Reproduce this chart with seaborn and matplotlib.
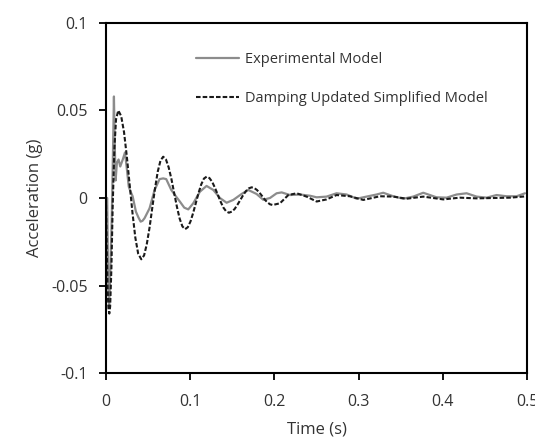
import matplotlib
matplotlib.use("Agg")
import matplotlib.pyplot as plt
import seaborn as sns
import pandas as pd

# Measured response (time in s, acceleration in g)
exp_t = [0.000, 0.0015, 0.0022, 0.003, 0.0038, 0.005, 0.007, 0.0085, 0.0095, 0.0105,
         0.0115, 0.013, 0.015, 0.017, 0.020, 0.0226, 0.025, 0.0271, 0.029, 0.0317,
         0.0356, 0.0385, 0.0412, 0.0435, 0.0459, 0.0518, 0.0578, 0.0637, 0.0680, 0.0716,
         0.0776, 0.0830, 0.0879, 0.0930, 0.0978, 0.1037, 0.1116, 0.1195, 0.1275, 0.1354,
         0.1433, 0.1512, 0.1611, 0.1690, 0.1789, 0.1868, 0.1948, 0.2027, 0.2087, 0.2186,
         0.2305, 0.2423, 0.2502, 0.2620, 0.2739, 0.2858, 0.2977, 0.3095, 0.3214, 0.3293,
         0.3412, 0.3530, 0.3649, 0.3768, 0.3847, 0.3926, 0.4045, 0.4164, 0.4283, 0.4402,
         0.4520, 0.4639, 0.4758, 0.4877, 0.4976]
exp_a = [0.000, 0.000, -0.030, -0.055, -0.062, -0.045, -0.010, 0.030, 0.058, 0.030,
         0.010, 0.020, 0.022, 0.018, 0.022, 0.026, 0.016, 0.0065, 0.004, 0.001,
         -0.0078, -0.011, -0.0135, -0.013, -0.0115, -0.0059, 0.0046, 0.0108, 0.0112, 0.0108,
         0.0046, 0.0010, -0.0021, -0.0055, -0.0065, -0.0030, 0.0036, 0.0069, 0.0046, 0.0000,
         -0.0027, -0.0011, 0.0023, 0.0046, 0.0023, -0.0010, 0.0000, 0.0027, 0.0032, 0.0017,
         0.0020, 0.0013, 0.0004, 0.0008, 0.0027, 0.0020, -0.0004, 0.0008, 0.0020, 0.0030,
         0.0010, -0.0004, 0.0008, 0.0030, 0.0017, 0.0004, 0.0002, 0.0020, 0.0027, 0.0008,
         0.0002, 0.0017, 0.0010, 0.0010, 0.0027]

# Damping-updated simplified model response
mod_t = [0.000, 0.001, 0.002, 0.003, 0.004, 0.005, 0.0065, 0.008, 0.010, 0.012,
         0.0147, 0.0181, 0.0215, 0.0248, 0.0282, 0.0316, 0.0349, 0.0383, 0.0420,
         0.0453, 0.0485, 0.0518, 0.0550, 0.0583, 0.0615, 0.0648, 0.0680,
         0.0713, 0.0745, 0.0778, 0.0810, 0.0843, 0.0875, 0.0908, 0.0940,
         0.0972, 0.1004, 0.1036, 0.1068, 0.1100, 0.1132, 0.1164, 0.1196,
         0.1229, 0.1262, 0.1295, 0.1328, 0.1361, 0.1394, 0.1427, 0.1460,
         0.1494, 0.1528, 0.1561, 0.1595, 0.1629, 0.1662, 0.1696, 0.1730,
         0.1761, 0.1793, 0.1824, 0.1855, 0.1886, 0.1918, 0.1949, 0.1980,
         0.2067, 0.2166, 0.2265, 0.2383, 0.2502, 0.2620, 0.2739, 0.2897, 0.3056,
         0.3254, 0.3412, 0.3570, 0.3768, 0.4006, 0.4200, 0.4400, 0.4600, 0.4800, 0.5000]
mod_a = [0.000, -0.030, -0.052, -0.063, -0.066, -0.062, -0.040, -0.005, 0.028, 0.045,
         0.050, 0.0468, 0.0376, 0.0238, 0.0075, -0.0088, -0.0226, -0.0318, -0.0350,
         -0.0328, -0.0264, -0.0169, -0.0057, 0.0055, 0.0150, 0.0214, 0.0236,
         0.0220, 0.0175, 0.0108, 0.0029, -0.0050, -0.0117, -0.0162, -0.0178,
         -0.0167, -0.0134, -0.0085, -0.0028, 0.0029, 0.0078, 0.0111, 0.0122,
         0.0114, 0.0092, 0.0058, 0.0019, -0.0020, -0.0054, -0.0076, -0.0084,
         -0.0078, -0.0063, -0.0039, -0.0012, 0.0016, 0.0039, 0.0055, 0.0061,
         0.0057, 0.0046, 0.0030, 0.0011, -0.0009, -0.0025, -0.0036, -0.0040,
         -0.0030, 0.0017, 0.0027, 0.0008, -0.0020, -0.0008, 0.0017, 0.0010, -0.0011,
         0.0010, 0.0008, -0.0004, 0.0008, -0.0008, 0.0002, -0.0002, 0.0000, 0.0002, 0.0010]

x_ticks = [0, 0.1, 0.2, 0.3, 0.4, 0.5]
x_tick_labels = ["0", "0.1", "0.2", "0.3", "0.4", "0.5"]
y_ticks = [-0.1, -0.05, 0, 0.05, 0.1]
y_tick_labels = ["-0.1", "-0.05", "0", "0.05", "0.1"]

sns.set_style("ticks")
plt.rcParams["font.family"] = ["Open Sans", "DejaVu Sans"]

exp_df = pd.DataFrame({"t": exp_t, "a": exp_a})
mod_df = pd.DataFrame({"t": mod_t, "a": mod_a})

fig = plt.figure(figsize=(5.35, 4.41), dpi=100)
ax = fig.add_axes([0.198, 0.154, 0.787, 0.794])

sns.lineplot(data=exp_df, x="t", y="a", ax=ax, color="#8c8c8c", linewidth=1.6,
             label="Experimental Model")
sns.lineplot(data=mod_df, x="t", y="a", ax=ax, color="#1a1a1a", linewidth=1.5,
             linestyle=(0, (2.2, 1.0)), label="Damping Updated Simplified Model")

ax.set_xlim(0, 0.5)
ax.set_ylim(-0.1, 0.1)
ax.set_xticks(x_ticks)
ax.set_xticklabels(x_tick_labels)
ax.set_yticks(y_ticks)
ax.set_yticklabels(y_tick_labels)
ax.tick_params(axis="both", direction="out", length=5, width=1.3, labelsize=11.5,
               colors="black", labelcolor="#333333")
ax.tick_params(axis="x", pad=10)
ax.tick_params(axis="y", pad=8)
for side in ["left", "right", "top", "bottom"]:
    ax.spines[side].set_visible(True)
    ax.spines[side].set_linewidth(1.5)
    ax.spines[side].set_color("black")

ax.set_xlabel("Time (s)", fontsize=12, color="#333333", labelpad=8)
ax.set_ylabel("Acceleration (g)", fontsize=12, color="#333333", labelpad=6)

leg = ax.legend(loc="upper left", bbox_to_anchor=(0.213, 0.918), frameon=False,
                fontsize=10.5, handlelength=3.0, handletextpad=0.4,
                labelspacing=1.65, borderpad=0, borderaxespad=0)
for txt in leg.get_texts():
    txt.set_color("#333333")

fig.savefig("out.png", dpi=100)
